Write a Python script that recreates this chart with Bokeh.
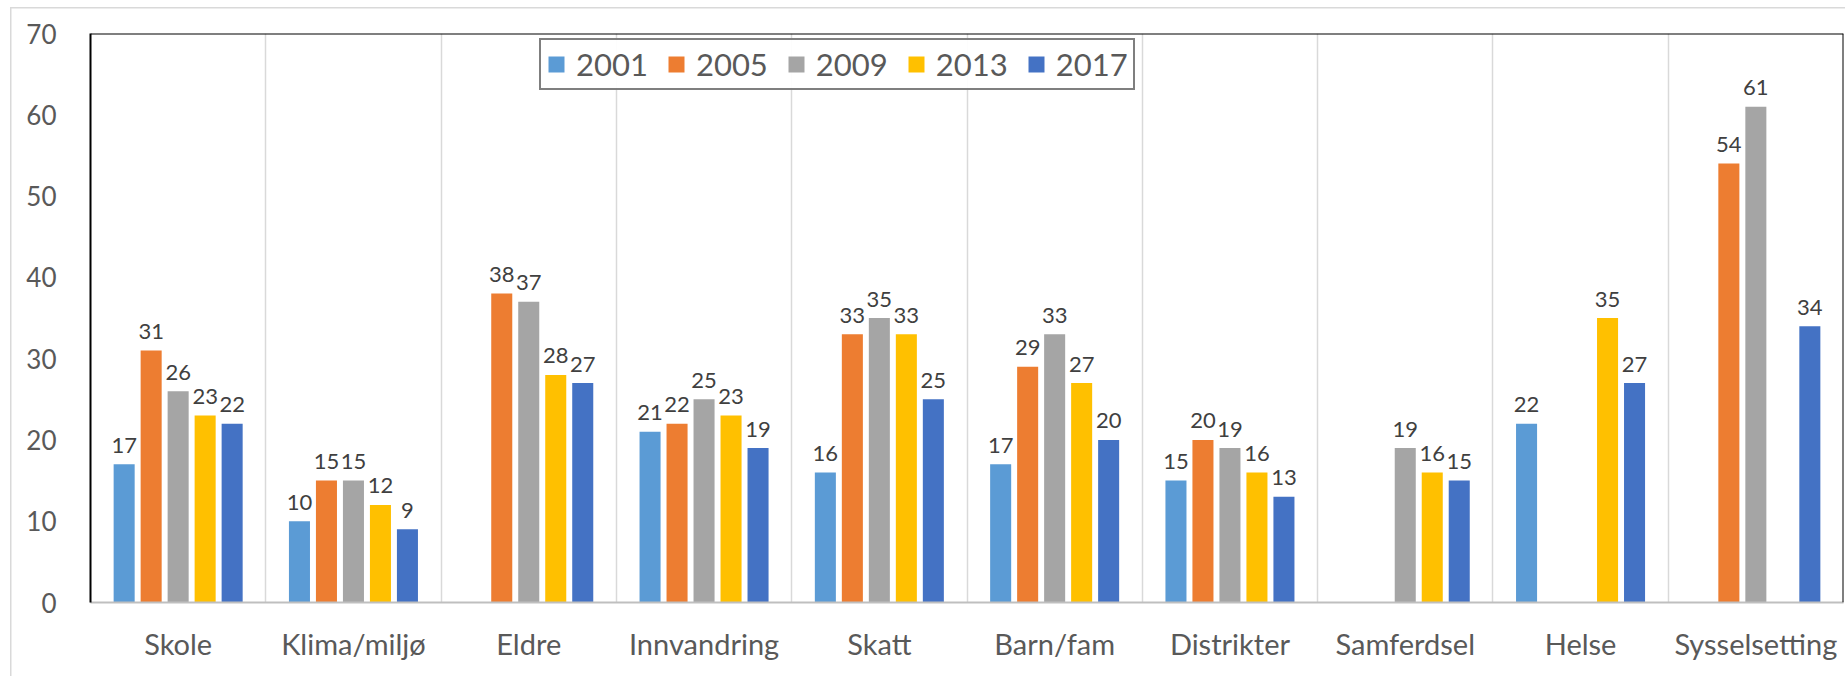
from bokeh.plotting import figure
from bokeh.models import ColumnDataSource, Span, FixedTicker, Legend, LegendItem
from bokeh.embed import file_html
from bokeh.resources import INLINE
from bokeh.core.properties import value

categories = ["Skole", "Klima/miljø", "Eldre", "Innvandring", "Skatt",
              "Barn/fam", "Distrikter", "Samferdsel", "Helse", "Sysselsetting"]
years = ["2001", "2005", "2009", "2013", "2017"]
v2001 = [17, 10, None, 21, 16, 17, 15, None, 22, None]
v2005 = [31, 15, 38, 22, 33, 29, 20, None, None, 54]
v2009 = [26, 15, 37, 25, 35, 33, 19, 19, None, 61]
v2013 = [23, 12, 28, 23, 33, 27, 16, 16, 35, None]
v2017 = [22, 9, 27, 19, 25, 20, 13, 15, 27, 34]
series = [v2001, v2005, v2009, v2013, v2017]
colors = ["#5B9BD5", "#ED7D31", "#A5A5A5", "#FFC000", "#4472C4"]
y_ticks = [0, 10, 20, 30, 40, 50, 60, 70]

FONT = "Lato"
n = len(categories)

p = figure(width=1845, height=676, x_range=(0, n), y_range=(0, 70),
           output_backend="svg", toolbar_location=None,
           min_border_left=90, min_border_right=2, min_border_top=33,
           min_border_bottom=74)
p.outline_line_color = None
p.background_fill_color = "white"
p.border_fill_color = None
# faint outer chart-area border (left and top), drawn behind the transparent border area
p.styles = {
    "background-color": "white",
    "background-image": "linear-gradient(#d9d9d9,#d9d9d9), linear-gradient(#d9d9d9,#d9d9d9)",
    "background-size": "1.5px calc(100% - 7px), calc(100% - 10px) 1.5px",
    "background-position": "10px 7px, 10px 6.5px",
    "background-repeat": "no-repeat",
}

# grid: vertical lines at category boundaries
p.xgrid.ticker = FixedTicker(ticks=list(range(1, n)))
p.xgrid.grid_line_color = "#d9d9d9"
p.xgrid.grid_line_width = 1.5
p.ygrid.grid_line_color = None

# x axis
centers = [i + 0.5 for i in range(n)]
p.xaxis.ticker = FixedTicker(ticks=centers)
p.xaxis.major_label_overrides = {c: lab for c, lab in zip(centers, categories)}
p.xaxis.major_tick_line_color = None
p.xaxis.minor_tick_line_color = None
p.xaxis.axis_line_color = "#bfbfbf"
p.xaxis.axis_line_width = 2
p.xaxis.major_label_standoff = 17
p.xaxis.major_label_text_font = FONT
p.xaxis.major_label_text_font_size = "29px"
p.xaxis.major_label_text_color = "#595959"

# y axis
p.yaxis.ticker = FixedTicker(ticks=y_ticks)
p.yaxis.major_tick_line_color = None
p.yaxis.minor_tick_line_color = None
p.yaxis.axis_line_color = "black"
p.yaxis.axis_line_width = 2
p.yaxis.major_label_standoff = 28
p.yaxis.major_label_text_font = FONT
p.yaxis.major_label_text_font_size = "26px"
p.yaxis.major_label_text_color = "#595959"

# frame top / right lines
p.add_layout(Span(location=70, dimension="width", line_color="black", line_width=2))
p.add_layout(Span(location=n, dimension="height", line_color="black", line_width=2))

step = 0.154
bw = 0.12
items = []
for k, (yr, vals, col) in enumerate(zip(years, series, colors)):
    xs, tops, labs = [], [], []
    for i, v in enumerate(vals):
        if v is None:
            continue
        xs.append(i + 0.5 + (k - 2) * step)
        tops.append(v)
        labs.append(str(v))
    src = ColumnDataSource(dict(x=xs, top=tops, label=labs))
    r = p.vbar(x="x", top="top", width=bw, source=src, fill_color=col, line_color=None)
    p.text(x="x", y="top", text="label", source=src, y_offset=-19,
           text_align="center", text_baseline="alphabetic",
           text_font=value(FONT), text_font_size="22px", text_color="#404040")
    items.append(LegendItem(label=yr, renderers=[r]))

legend = Legend(items=items, orientation="horizontal", location=(449, 512),
                border_line_color="black", border_line_width=2,
                glyph_width=20, glyph_height=20, label_standoff=10,
                spacing=18, padding=5, margin=0,
                label_text_font=FONT, label_text_font_size="31px",
                label_text_color="#595959", background_fill_color="white")
p.add_layout(legend)

open("out.html", "w").write(file_html(p, INLINE))
